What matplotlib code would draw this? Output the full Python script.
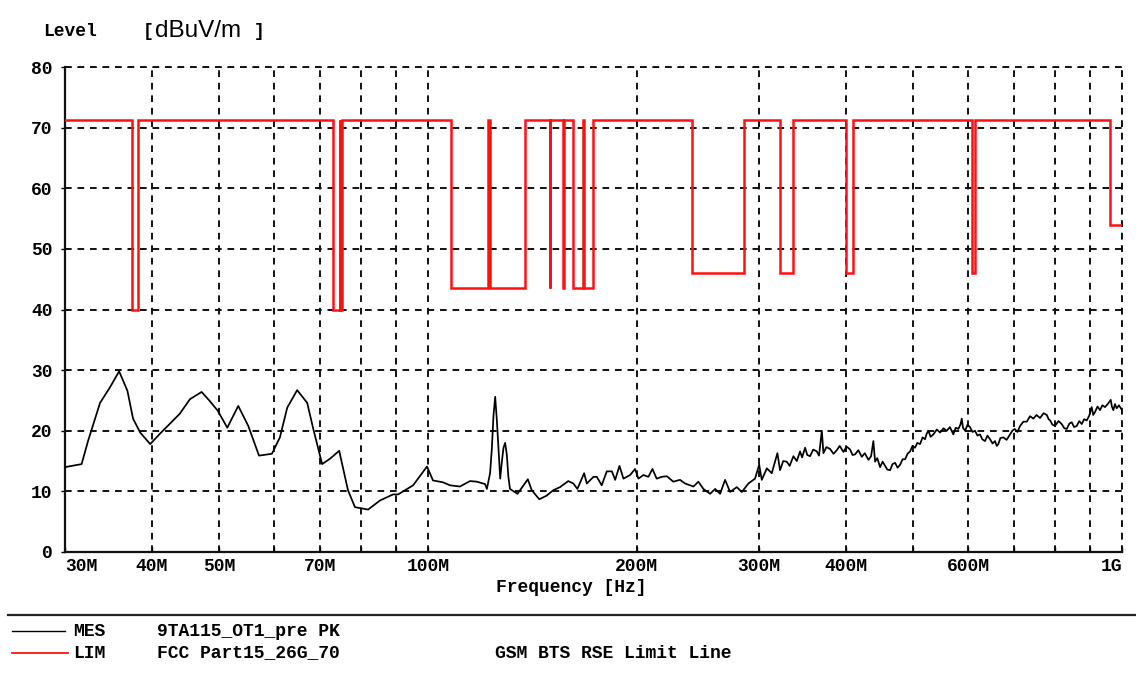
import matplotlib
matplotlib.use("Agg")
import matplotlib.pyplot as plt
from matplotlib.lines import Line2D

plt.rcParams['lines.scale_dashes'] = False
MONO = 'Liberation Mono'

# measured trace (MES 9TA115_OT1_pre PK), frequency in MHz, level in dBuV/m
mes_freq = [
    30.0, 31.7, 32.4, 33.7, 34.8, 35.9, 36.9, 37.6, 38.5, 39.8,
    41.1, 43.9, 45.4, 47.2, 48.5, 49.8, 51.4, 53.3, 55.1, 57.1,
    59.6, 61.2, 62.7, 64.8, 67.0, 68.3, 70.4, 72.3, 74.5, 76.7,
    78.5, 82.0, 85.3, 89.1, 90.6, 92.7, 95.2, 99.7, 101.7, 105.1,
    107.6, 111.2, 115.0, 117.6, 120.9, 121.6, 122.9, 123.6, 124.3, 125.0,
    125.7, 126.3, 127.1, 127.8, 128.5, 129.2, 129.9, 130.6, 131.3, 134.6,
    137.3, 139.3, 141.1, 144.7, 148.3, 151.6, 155.0, 159.3, 162.0, 164.2,
    166.6, 167.9, 169.4, 173.2, 175.1, 178.0, 181.0, 184.1, 186.1, 188.8,
    191.3, 195.6, 198.8, 201.0, 204.4, 207.8, 210.6, 213.6, 217.2, 220.9,
    225.7, 230.8, 234.7, 241.3, 245.3, 249.4, 255.0, 259.3, 263.6, 268.0,
    272.5, 278.6, 283.3, 289.6, 296.0, 300.1, 302.7, 307.8, 312.9, 318.8,
    321.6, 325.0, 328.9, 332.0, 336.2, 340.0, 343.7, 346.0, 349.5, 352.0,
    355.3, 359.0, 363.3, 366.0, 369.4, 371.4, 375.0, 379.7, 384.0, 388.3,
    392.0, 396.9, 401.0, 405.8, 409.0, 412.5, 417.0, 421.8, 426.0, 431.2,
    435.0, 438.3, 440.8, 444.0, 448.2, 452.0, 455.7, 459.0, 463.4, 467.0,
    471.1, 475.0, 479.0, 483.0, 487.0, 491.0, 495.2, 499.0, 503.3, 507.0,
    511.8, 516.0, 520.3, 523.0, 526.0, 530.0, 534.9, 541.0, 546.9, 553.0,
    559.1, 565.0, 571.5, 576.0, 581.1, 585.0, 587.7, 590.0, 594.2, 599.0,
    604.0, 609.0, 614.1, 619.0, 624.4, 629.0, 634.8, 640.0, 645.4, 651.0,
    656.2, 660.0, 663.4, 668.0, 674.6, 682.0, 689.7, 695.0, 700.6, 707.0,
    713.2, 721.0, 729.1, 737.0, 745.3, 753.0, 762.0, 771.0, 779.2, 784.0,
    787.8, 794.0, 800.8, 810.0, 818.8, 826.0, 832.5, 840.0, 846.4, 853.0,
    860.6, 868.0, 875.0, 882.0, 889.6, 897.0, 904.5, 909.0, 914.5, 922.0,
    929.7, 937.0, 945.3, 955.0, 963.4, 967.0, 971.6, 977.0, 982.6, 990.0,
    1000.0,
]
mes_level = [
    14.0, 14.5, 18.4, 24.6, 27.1, 29.8, 26.6, 22.0, 19.7, 17.8,
    19.5, 22.8, 25.2, 26.4, 24.9, 23.3, 20.5, 24.1, 20.8, 15.9,
    16.2, 18.9, 23.8, 26.7, 24.6, 20.5, 14.5, 15.4, 16.7, 10.2,
    7.4, 7.0, 8.5, 9.5, 9.5, 10.2, 11.0, 14.1, 11.8, 11.5,
    11.0, 10.8, 11.7, 11.6, 11.2, 10.4, 13.0, 16.9, 22.5, 25.6,
    21.7, 17.5, 12.1, 14.9, 17.2, 18.0, 16.1, 12.4, 10.4, 9.6,
    11.0, 12.0, 10.2, 8.7, 9.3, 10.2, 10.7, 11.7, 11.3, 10.4,
    12.1, 13.0, 11.3, 12.4, 12.4, 11.0, 13.3, 13.3, 11.9, 14.2,
    12.1, 12.7, 13.7, 12.1, 12.7, 12.4, 13.7, 12.1, 12.4, 12.5,
    11.6, 11.9, 11.3, 10.8, 11.6, 10.4, 9.6, 10.4, 9.6, 11.9,
    9.9, 10.7, 9.9, 11.3, 12.1, 14.4, 11.9, 13.8, 13.0, 16.3,
    13.5, 15.0, 14.9, 14.2, 15.8, 15.0, 16.6, 15.6, 17.2, 16.0,
    15.8, 16.9, 16.6, 15.9, 20.0, 16.3, 17.3, 17.0, 16.2, 16.8,
    17.5, 16.5, 17.4, 16.9, 16.0, 16.1, 16.8, 15.7, 16.3, 15.2,
    15.8, 18.3, 14.9, 15.5, 14.0, 14.9, 14.2, 13.6, 13.5, 14.5,
    14.7, 13.9, 14.4, 15.3, 15.3, 16.2, 16.6, 17.5, 17.2, 18.0,
    17.8, 18.9, 18.6, 19.5, 20.0, 19.0, 19.4, 20.2, 19.7, 20.4,
    20.0, 20.6, 19.4, 20.5, 20.3, 21.0, 22.0, 20.5, 20.0, 21.0,
    20.6, 19.8, 20.0, 19.2, 19.4, 18.6, 18.3, 19.2, 18.6, 17.9,
    18.3, 17.5, 17.8, 18.8, 18.9, 18.5, 19.4, 20.0, 20.3, 19.8,
    20.8, 21.5, 21.5, 22.4, 22.0, 22.6, 22.1, 22.9, 22.6, 21.9,
    21.7, 21.0, 20.8, 21.6, 21.1, 20.4, 20.3, 21.2, 21.4, 20.6,
    20.8, 21.6, 21.1, 21.9, 21.7, 22.5, 23.9, 22.6, 23.1, 24.0,
    23.4, 24.2, 23.9, 24.5, 25.1, 24.0, 23.4, 24.4, 23.7, 24.2,
    23.4,
]

# limit line (LIM FCC Part15_26G_70): high level outside restricted bands
limit_high = 71.3
band_lo = [37.5, 73.0, 74.8, 108.0, 123.0, 149.9, 156.7, 162.0125, 167.72, 240.0, 322.0, 399.9, 608.0, 960.0]
band_hi = [38.25, 74.6, 75.2, 121.94, 138.0, 150.05, 156.9, 167.17, 173.2, 285.0, 335.4, 410.0, 614.0, 1000.0]
band_level = [40.0, 40.0, 40.0, 43.5, 43.5, 43.5, 43.5, 43.5, 43.5, 46.0, 46.0, 46.0, 46.0, 54.0]

x_major = [30, 40, 50, 70, 100, 200, 300, 400, 600, 1000]
x_major_labels = ['30M', '40M', '50M', '70M', '100M', '200M', '300M', '400M', '600M', '1G']
x_minor = [60, 80, 90, 500, 700, 800, 900]
y_ticks = [0, 10, 20, 30, 40, 50, 60, 70, 80]

# build the step shaped limit line
lim_f = [30.0]
lim_v = [limit_high]
for lo, hi, lv in zip(band_lo, band_hi, band_level):
    lim_f += [lo, lo, hi]
    lim_v += [limit_high, lv, lv]
    if hi < 1000:
        lim_f.append(hi)
        lim_v.append(limit_high)

W, H = 1136, 676
fig = plt.figure(figsize=(W / 100, H / 100), dpi=100)
fig.patch.set_facecolor('white')
ax = fig.add_axes([65 / W, (H - 552) / H, (1122 - 65) / W, (552 - 67) / H])

ax.set_xscale('log')
ax.set_xlim(30, 1000)
ax.set_ylim(0, 80)

dash = (0, (4.8, 4.2))
ax.grid(which='both', color='#111111', linestyle=dash, linewidth=1.4)
ax.axhline(80, color='#111111', linestyle=dash, linewidth=1.4, clip_on=False)
ax.axvline(1000, color='#111111', linestyle=dash, linewidth=1.4, clip_on=False)

ax.plot(lim_f, lim_v, color='#ff1010', lw=1.8, solid_joinstyle='miter', zorder=3)
ax.plot(mes_freq, mes_level, color='black', lw=1.25, zorder=4)

ax.set_xticks(x_major)
ax.set_xticklabels(x_major_labels)
ax.set_xticks(x_minor, minor=True)
ax.xaxis.set_minor_formatter(plt.NullFormatter())
ax.set_yticks(y_ticks)

FS = 13
for lab in ax.get_xticklabels() + ax.get_yticklabels():
    lab.set_fontfamily(MONO)
    lab.set_fontweight('bold')
    lab.set_fontsize(FS)
xl = ax.get_xticklabels()
xl[0].set_horizontalalignment('left')
xl[-1].set_horizontalalignment('right')

ax.tick_params(axis='x', which='both', direction='in', length=3.6, width=1.0, pad=4, colors='black')
ax.tick_params(axis='y', which='both', direction='out', length=3, width=1.0, pad=6, colors='black')

for side in ('top', 'right'):
    ax.spines[side].set_visible(False)
for side in ('left', 'bottom'):
    ax.spines[side].set_linewidth(1.6)
    ax.spines[side].set_color('#111111')


def fx(px):
    return px / W


def fy(py):
    return 1 - py / H


# header
fig.text(fx(43), fy(31), 'Level', family=MONO, weight='bold', fontsize=FS, va='center', ha='left')
fig.text(fx(143), fy(31), '[', family=MONO, weight='bold', fontsize=FS, va='center', ha='left')
fig.text(fx(155), fy(31), 'dBuV/m', family='Liberation Sans', fontsize=17.5, va='center', ha='left')
fig.text(fx(254), fy(31), ']', family=MONO, weight='bold', fontsize=FS, va='center', ha='left')

fig.text(fx(571), fy(588), 'Frequency [Hz]', family=MONO, weight='bold', fontsize=FS, va='center', ha='center')

# separator and legend block
fig.add_artist(Line2D([fx(8), fx(1136)], [fy(615), fy(615)], color='#222222', lw=1.6))
fig.add_artist(Line2D([fx(12), fx(65)], [fy(631), fy(631)], color='black', lw=1.0))
fig.add_artist(Line2D([fx(12), fx(68)], [fy(653), fy(653)], color='#ff1010', lw=1.3))
fig.text(fx(73), fy(631), 'MES', family=MONO, weight='bold', fontsize=FS, va='center')
fig.text(fx(157), fy(631), '9TA115_OT1_pre PK', family=MONO, weight='bold', fontsize=FS, va='center')
fig.text(fx(73), fy(653), 'LIM', family=MONO, weight='bold', fontsize=FS, va='center')
fig.text(fx(157), fy(653), 'FCC Part15_26G_70', family=MONO, weight='bold', fontsize=FS, va='center')
fig.text(fx(495), fy(653), 'GSM BTS RSE Limit Line', family=MONO, weight='bold', fontsize=FS, va='center')

fig.savefig('out.png', dpi=100)
